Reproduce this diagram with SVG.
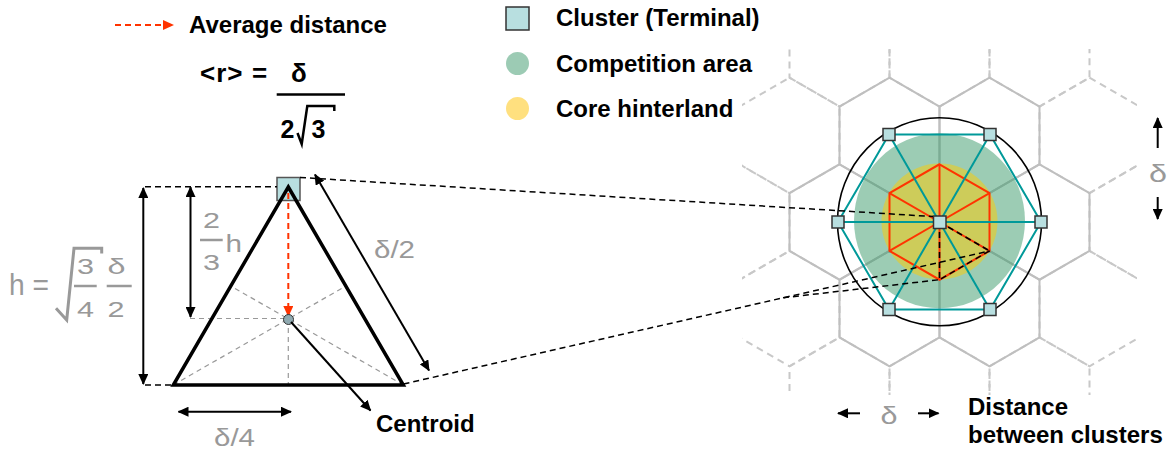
<svg xmlns="http://www.w3.org/2000/svg" xmlns:xlink="http://www.w3.org/1999/xlink" width="1169" height="457" viewBox="0 0 1169 457">
<style>
.b{font-family:"Liberation Sans",Arial,sans-serif;font-weight:bold;font-size:24px;fill:#000}
.g{font-family:"Liberation Sans",Arial,sans-serif;font-size:26px;fill:#999}
.d{font-size:22px}
.gd{fill:none;stroke:#c8c8c8;stroke-width:2;stroke-dasharray:7 5}
.gs{fill:none;stroke:#bfbfbf;stroke-width:2}
.sq{fill:#b8dfe0;stroke:#333;stroke-width:1.5}
.kd{fill:none;stroke:#000;stroke-width:1.5;stroke-dasharray:6 4}
.md{fill:none;stroke:#999;stroke-width:1.2;stroke-dasharray:5 4}
.ar{fill:none;stroke:#000;stroke-width:2}
.tl{fill:none;stroke:#009999;stroke-width:2}
.rd{fill:none;stroke:#ff3300;stroke-width:2}
</style>
<defs>
<marker id="ah" viewBox="0 0 11 10" refX="10" refY="5" markerWidth="11" markerHeight="10" markerUnits="userSpaceOnUse" orient="auto-start-reverse"><path d="M0,0 L11,5 L0,10 z" fill="#000"/></marker>
<marker id="ahr" viewBox="0 0 11 10" refX="10" refY="5" markerWidth="11" markerHeight="10" markerUnits="userSpaceOnUse" orient="auto"><path d="M0,0 L11,5 L0,10 z" fill="#ff3300"/></marker>
<polygon id="hx" points="0,-57.74 50,-28.87 50,28.87 0,57.74 -50,28.87 -50,-28.87"/>
<clipPath id="gc"><rect x="742" y="49" width="395" height="346"/></clipPath>
</defs>

<g id="legend">
<line x1="115" y1="25" x2="173" y2="25" stroke="#ff3300" stroke-width="2" stroke-dasharray="6 4" marker-end="url(#ahr)"/>
<text class="b" x="189" y="33">Average distance</text>
<rect class="sq" x="506" y="7" width="23" height="23"/>
<text class="b" x="556" y="26">Cluster (Terminal)</text>
<circle cx="517.5" cy="63.5" r="11.5" fill="#9ccbb4"/>
<text class="b" x="556" y="72">Competition area</text>
<circle cx="517.5" cy="108.5" r="11.5" fill="#ffe07f"/>
<text class="b" x="556" y="117">Core hinterland</text>
</g>

<g id="formula">
<text class="b" x="200" y="82" style="font-size:26px" letter-spacing="1">&lt;r&gt;</text>
<text class="b" x="252" y="82" style="font-size:26px">=</text>
<text class="b" x="291" y="82" style="font-size:26px">δ</text>
<line x1="276.7" y1="94.5" x2="345" y2="94.5" stroke="#000" stroke-width="2.5"/>
<text class="b" x="280.5" y="137.5" style="font-size:25px">2</text>
<polyline points="297.5,133 301.7,144 307.3,106 334.3,106 334.3,111" fill="none" stroke="#000" stroke-width="2.5"/>
<text class="b" x="311.5" y="137.5" style="font-size:25px">3</text>
</g>

<g id="grid">
<g class="gd" clip-path="url(#gc)">
<use xlink:href="#hx" x="839.5" y="48.8"/><use xlink:href="#hx" x="939.5" y="48.8"/><use xlink:href="#hx" x="1039.5" y="48.8"/>
<use xlink:href="#hx" x="789.5" y="135.4"/><use xlink:href="#hx" x="1089.5" y="135.4"/>
<use xlink:href="#hx" x="739.5" y="222"/><use xlink:href="#hx" x="1139.5" y="222"/>
<use xlink:href="#hx" x="789.5" y="308.6"/><use xlink:href="#hx" x="1089.5" y="308.6"/>
<use xlink:href="#hx" x="839.5" y="395.2"/><use xlink:href="#hx" x="939.5" y="395.2"/><use xlink:href="#hx" x="1039.5" y="395.2"/>
</g>
<g class="gs">
<use xlink:href="#hx" x="889.5" y="135.4"/><use xlink:href="#hx" x="989.5" y="135.4"/>
<use xlink:href="#hx" x="839.5" y="222"/><use xlink:href="#hx" x="939.5" y="222"/><use xlink:href="#hx" x="1039.5" y="222"/>
<use xlink:href="#hx" x="889.5" y="308.6"/><use xlink:href="#hx" x="989.5" y="308.6"/>
</g>
</g>

<g id="areas">
<ellipse cx="939.5" cy="220.8" rx="85.5" ry="87.5" fill="#3a9a6a" fill-opacity="0.5"/>
<circle cx="939.5" cy="221.5" r="58" fill="#cdcc5a"/>
<g class="rd">
<use xlink:href="#hx" x="939.5" y="222"/>
<line x1="939.5" y1="222" x2="939.5" y2="164.3"/>
<line x1="939.5" y1="222" x2="989.5" y2="193.1"/>
<line x1="939.5" y1="222" x2="989.5" y2="250.9"/>
<line x1="939.5" y1="222" x2="939.5" y2="279.7"/>
<line x1="939.5" y1="222" x2="889.5" y2="250.9"/>
<line x1="939.5" y1="222" x2="889.5" y2="193.1"/>
</g>
<g class="kd" style="stroke-width:1.6">
<line x1="939.5" y1="222" x2="989.5" y2="250.9"/>
<line x1="939.5" y1="222" x2="939.5" y2="279.7"/>
<line x1="989.5" y1="250.9" x2="939.5" y2="279.7"/>
</g>
<ellipse cx="939.5" cy="221.7" rx="102" ry="104" fill="none" stroke="#000" stroke-width="1.6"/>
</g>

<g id="teal" class="tl">
<polygon points="838,222 889,134.5 990,134.5 1041,222 990,309.5 889,309.5"/>
<line x1="838" y1="222" x2="1041" y2="222"/>
<line x1="889" y1="134.5" x2="990" y2="309.5"/>
<line x1="990" y1="134.5" x2="889" y2="309.5"/>
</g>

<g id="clusters">
<rect class="sq" x="933.5" y="216" width="12.5" height="12.5"/>
<rect class="sq" x="832" y="216" width="12" height="12"/>
<rect class="sq" x="1035" y="216" width="12" height="12"/>
<rect class="sq" x="883" y="128.5" width="12" height="12"/>
<rect class="sq" x="984" y="128.5" width="12" height="12"/>
<rect class="sq" x="883" y="303.5" width="12" height="12"/>
<rect class="sq" x="984" y="303.5" width="12" height="12"/>
</g>

<g id="triangle">
<line class="md" x1="288.3" y1="319" x2="288.3" y2="385"/>
<line class="md" x1="173.3" y1="385" x2="345.8" y2="286"/>
<line class="md" x1="403.3" y1="385" x2="230.8" y2="286"/>
<line class="md" x1="190" y1="318.5" x2="288" y2="318.5"/>
<rect class="sq" x="277" y="177.5" width="23" height="23" style="stroke:#555"/>
<polygon points="288.3,187 403.3,385 173.3,385" fill="none" stroke="#000" stroke-width="3.5"/>
<line x1="288.3" y1="193" x2="288.3" y2="316" stroke="#ff3300" stroke-width="2" stroke-dasharray="6 4" marker-end="url(#ahr)"/>
<circle cx="288.5" cy="319.5" r="5" fill="#8fa9b0" stroke="#333" stroke-width="1"/>
</g>

<g id="dims">
<line class="ar" x1="143.3" y1="188" x2="143.3" y2="384" marker-start="url(#ah)" marker-end="url(#ah)"/>
<line class="ar" x1="190.5" y1="187" x2="190.5" y2="317" marker-start="url(#ah)" marker-end="url(#ah)"/>
<line class="ar" x1="315" y1="174.5" x2="429" y2="370.5" marker-start="url(#ah)" marker-end="url(#ah)"/>
<line class="ar" x1="178.5" y1="411.7" x2="291" y2="411.7" marker-start="url(#ah)" marker-end="url(#ah)"/>
<line class="ar" x1="291" y1="322" x2="370.5" y2="410.5" marker-end="url(#ah)"/>
<line class="ar" x1="1157.7" y1="148" x2="1157.7" y2="118" stroke-width="2.5" marker-end="url(#ah)"/>
<line class="ar" x1="1157.7" y1="197" x2="1157.7" y2="219" stroke-width="2.5" marker-end="url(#ah)"/>
<line class="ar" x1="860" y1="413.3" x2="838" y2="413.3" stroke-width="2.5" marker-end="url(#ah)"/>
<line class="ar" x1="918" y1="413.3" x2="938.5" y2="413.3" stroke-width="2.5" marker-end="url(#ah)"/>
</g>

<g id="connectors" class="kd">
<line x1="145" y1="186.7" x2="277" y2="186.7"/>
<line x1="145" y1="385" x2="173" y2="385"/>
<line x1="300" y1="177.5" x2="933" y2="216.5"/>
<line x1="403.5" y1="384" x2="989.5" y2="251"/>
<line x1="783" y1="297.8" x2="939.5" y2="279.7"/>
</g>

<g id="labels">
<text class="g" x="9" y="295" style="font-size:29px" textLength="40" lengthAdjust="spacingAndGlyphs">h =</text>
<polyline points="56,308.3 66.7,320 74,248.3 101.7,248.3 101.7,253.5" fill="none" stroke="#999" stroke-width="3"/>
<text class="g d" x="77" y="273.5" textLength="17" lengthAdjust="spacingAndGlyphs">3</text>
<line x1="74" y1="286" x2="96.7" y2="286" stroke="#999" stroke-width="2.5"/>
<text class="g d" x="77" y="316.7" textLength="17" lengthAdjust="spacingAndGlyphs">4</text>
<text class="g d" x="107.5" y="273.5" textLength="18" lengthAdjust="spacingAndGlyphs">δ</text>
<line x1="106.7" y1="286" x2="131.7" y2="286" stroke="#999" stroke-width="2.5"/>
<text class="g d" x="107.5" y="316.7" textLength="17" lengthAdjust="spacingAndGlyphs">2</text>
<text class="g d" x="203" y="228.3" textLength="17" lengthAdjust="spacingAndGlyphs">2</text>
<line x1="200" y1="240" x2="222.7" y2="240" stroke="#999" stroke-width="2.5"/>
<text class="g d" x="203" y="270" textLength="17" lengthAdjust="spacingAndGlyphs">3</text>
<text class="g" x="225.5" y="251.7" style="font-size:23px" textLength="16.5" lengthAdjust="spacingAndGlyphs">h</text>
<text class="g" x="374" y="257.5" style="font-size:23px" textLength="41" lengthAdjust="spacingAndGlyphs">δ/2</text>
<text class="g" x="214" y="446" style="font-size:23px" textLength="41" lengthAdjust="spacingAndGlyphs">δ/4</text>
<text class="b" x="376" y="431.7">Centroid</text>
<text class="g" x="1149" y="182" style="font-size:24px" textLength="18" lengthAdjust="spacingAndGlyphs">δ</text>
<text class="g" x="880.5" y="424" style="font-size:23px" textLength="17" lengthAdjust="spacingAndGlyphs">δ</text>
<text class="b" x="968" y="415">Distance</text>
<text class="b" x="968" y="443.3">between clusters</text>
</g>
</svg>
